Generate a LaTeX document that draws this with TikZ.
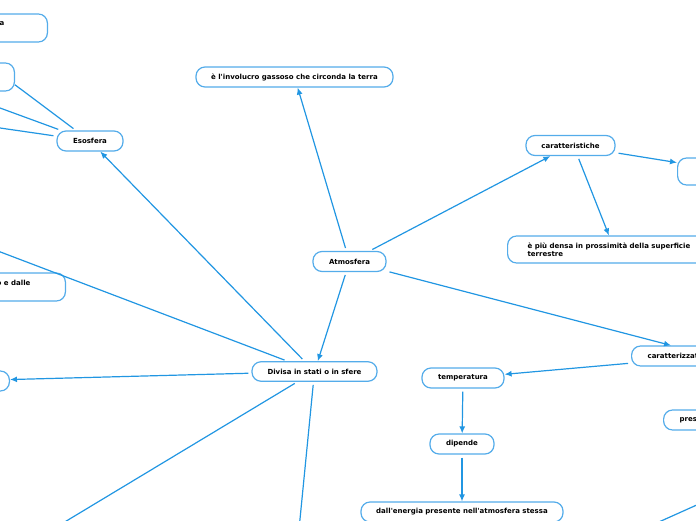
\documentclass[tikz,border=0pt]{standalone}
\usepackage{fontspec}
\setmainfont{DejaVu Sans}
\usetikzlibrary{arrows.meta}
\definecolor{mapline}{RGB}{33,150,226}
\definecolor{mapborder}{RGB}{84,172,234}

\begin{document}
\begin{tikzpicture}[
  x=1pt, y=-1pt,
  box/.style={draw=mapborder, line width=1.2pt, fill=white, rounded corners=9pt,
    font=\bfseries\fontsize{7pt}{8.5pt}\selectfont, minimum height=20pt,
    inner xsep=0pt, inner ysep=2pt},
  connector/.style={mapline, line width=1.2pt, shorten <=3pt},
  arrowlink/.style={connector, -{Latex[length=7pt,width=6pt]}}
]
  % The visible window of the map
  \useasboundingbox (0,0) rectangle (696,520);
  \clip (0,0) rectangle (696,520);

  % Central topic and its direct children
  \node[box, minimum width=73pt] (atm) at (349.5,261.5) {Atmosfera};
  \node[box, minimum width=197pt] (invol) at (294.5,77)
    {è l\textquotesingle{}involucro gassoso che circonda la terra};
  \node[box, minimum width=89pt] (car1) at (570.5,145.5) {caratteristiche};
  \node[box, minimum width=125pt, minimum height=19.5pt] (divisa) at (314.5,371.5)
    {Divisa in stati o in sfere};
  \node[box, anchor=west, inner xsep=16pt, text width=128pt, align=left] (car2)
    at (631,356) {caratterizzat};

  % Branch of caratteristiche (partly outside the window)
  \node[box, anchor=west, minimum width=110pt, minimum height=27pt] (rnode1) at (677,171.5) {};
  \node[box, anchor=west, align=left, inner xsep=20pt, minimum height=27pt] (densa)
    at (507,249.5) {è più densa in prossimità della superficie\\terrestre};

  % Branch of caratterizzat
  \node[box, minimum width=82pt] (temp) at (463,378) {temperatura};
  \node[box, minimum width=64pt] (dip) at (462,444) {dipende};
  \node[box, minimum width=202pt] (ener) at (462,512)
    {dall\textquotesingle{}energia presente nell\textquotesingle{}atmosfera stessa};
  \node[box, anchor=west, inner xsep=16pt, text width=80pt, align=left] (pres)
    at (663,420) {pres};

  % Branch of Divisa, cut by the left edge
  \node[box, minimum width=66pt] (esos) at (90,141) {Esosfera};
  \node[box, anchor=east, minimum width=110pt] (n4) at (10,381) {};
  \node[box, anchor=east, align=right, inner xsep=35pt, minimum height=28pt] (n3)
    at (66,287) {o e dalle\\\mbox{}};
  \node[box, anchor=east, align=right, inner xsep=43pt, minimum height=28pt] (n1)
    at (48,28) {a\\\mbox{}};
  \node[box, anchor=east, minimum width=110pt, minimum height=28pt] (n2) at (15,77) {};

  % Loose ends that leave the window
  \coordinate (ulend) at (-60,229);
  \coordinate (llend) at (-20,573);
  \coordinate (btend) at (295,570);
  \coordinate (e2end) at (-60,86);
  \coordinate (e3end) at (-60,119.3);
  \coordinate (br1) at (740,485.6);
  \coordinate (br2) at (620,539.4);

  % Atmosfera
  \draw[arrowlink] (atm) -- (invol);
  \draw[arrowlink] (atm) -- (car1);
  \draw[arrowlink] (atm) -- (car2);
  \draw[arrowlink] (atm) -- (divisa);

  % caratteristiche
  \draw[arrowlink] (car1) -- (rnode1);
  \draw[arrowlink] (car1.-56) -- (densa.north);

  % caratterizzat
  \draw[arrowlink] (car2) -- (temp);
  \draw[arrowlink] (temp) -- (dip);
  \draw[arrowlink] (dip) -- (ener);

  % Divisa in stati o in sfere
  \draw[arrowlink] (divisa) -- (esos);
  \draw[arrowlink] (divisa) -- (n4);
  \draw[connector] (divisa) -- (ulend);
  \draw[connector] (divisa) -- (llend);
  \draw[connector] (divisa) -- (btend);

  % Esosfera
  \draw[connector] (esos) -- (n2.-8);
  \draw[connector] (esos) -- (e2end);
  \draw[connector] (esos) -- (e3end);

  % lower right
  \draw[connector] (br1) -- (br2);
\end{tikzpicture}
\end{document}
